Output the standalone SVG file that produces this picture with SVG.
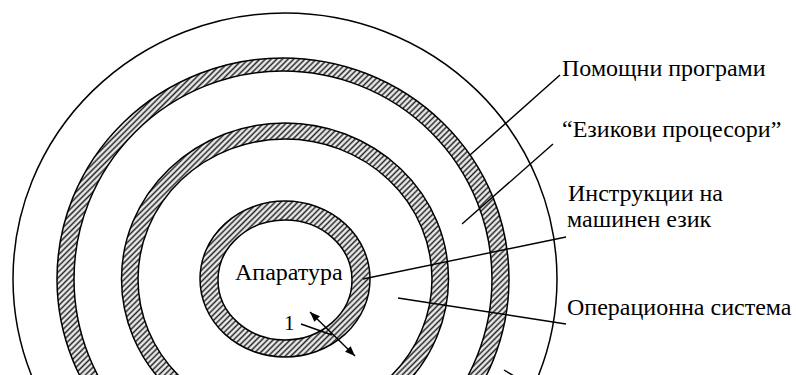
<svg xmlns="http://www.w3.org/2000/svg" width="796" height="375" viewBox="0 0 796 375">
  <defs>
    <pattern id="hatch" width="4" height="4" patternUnits="userSpaceOnUse" patternTransform="rotate(45)">
      <rect width="4" height="4" fill="#ffffff"/>
      <line x1="1.5" y1="0" x2="1.5" y2="4" stroke="#222" stroke-width="1.7"/>
    </pattern>
    <marker id="ah" viewBox="0 0 10 8" refX="10" refY="4" markerWidth="10" markerHeight="8" markerUnits="userSpaceOnUse" orient="auto-start-reverse">
      <path d="M0,0 L10,4 L0,8 Z" fill="#000"/>
    </marker>
    <style>
      .ring { stroke: #000; stroke-width: 1.5; }
      .hatched { fill: url(#hatch); }
      .blank { fill: #fff; }
      .lead { stroke: #000; stroke-width: 1.4; fill: none; }
      .lbl { font-family: "Liberation Serif", "Times New Roman", serif; font-size: 24px; fill: #000; }
    </style>
  </defs>
  <rect width="796" height="375" fill="#fff"/>

  <g id="outer-layer">
    <ellipse class="ring blank" cx="285" cy="279" rx="272" ry="266"/>
  </g>
  <g id="ring-3">
    <ellipse class="ring hatched" cx="283" cy="279" rx="226" ry="221"/>
    <ellipse class="ring blank" cx="283" cy="279" rx="209" ry="208"/>
  </g>
  <g id="ring-2">
    <ellipse class="ring hatched" cx="285" cy="279" rx="163.5" ry="156"/>
    <ellipse class="ring blank" cx="285" cy="279" rx="147" ry="140"/>
  </g>
  <g id="ring-1">
    <ellipse class="ring hatched" cx="285" cy="279" rx="85" ry="78"/>
    <ellipse class="ring blank" cx="285" cy="280" rx="67" ry="60"/>
  </g>

  <g id="connectors">
    <line class="lead" x1="560" y1="75" x2="470" y2="155"/>
    <line class="lead" x1="553" y1="144" x2="462" y2="224"/>
    <line class="lead" x1="566" y1="237" x2="363" y2="279"/>
    <line class="lead" x1="398" y1="298" x2="566" y2="324"/>
    <line class="lead" x1="310" y1="312" x2="355" y2="356" marker-start="url(#ah)" marker-end="url(#ah)"/>
    <line class="lead" x1="301" y1="324" x2="332" y2="335"/>
    <line class="lead" x1="504" y1="370" x2="514" y2="376"/>
  </g>

  <g id="label-hardware"><text class="lbl" x="235" y="280">Апаратура</text></g>
  <g id="label-1"><text class="lbl" x="284" y="330" style="font-size:21px">1</text></g>
  <g id="label-utilities"><text class="lbl" x="562" y="76">Помощни програми</text></g>
  <g id="label-langproc"><text class="lbl" x="562" y="137">“Езикови процесори”</text></g>
  <g id="label-machine"><text class="lbl" x="568" y="201">Инструкции на</text><text class="lbl" x="567" y="227">машинен език</text></g>
  <g id="label-os"><text class="lbl" x="567" y="315">Операционна система</text></g>
</svg>
